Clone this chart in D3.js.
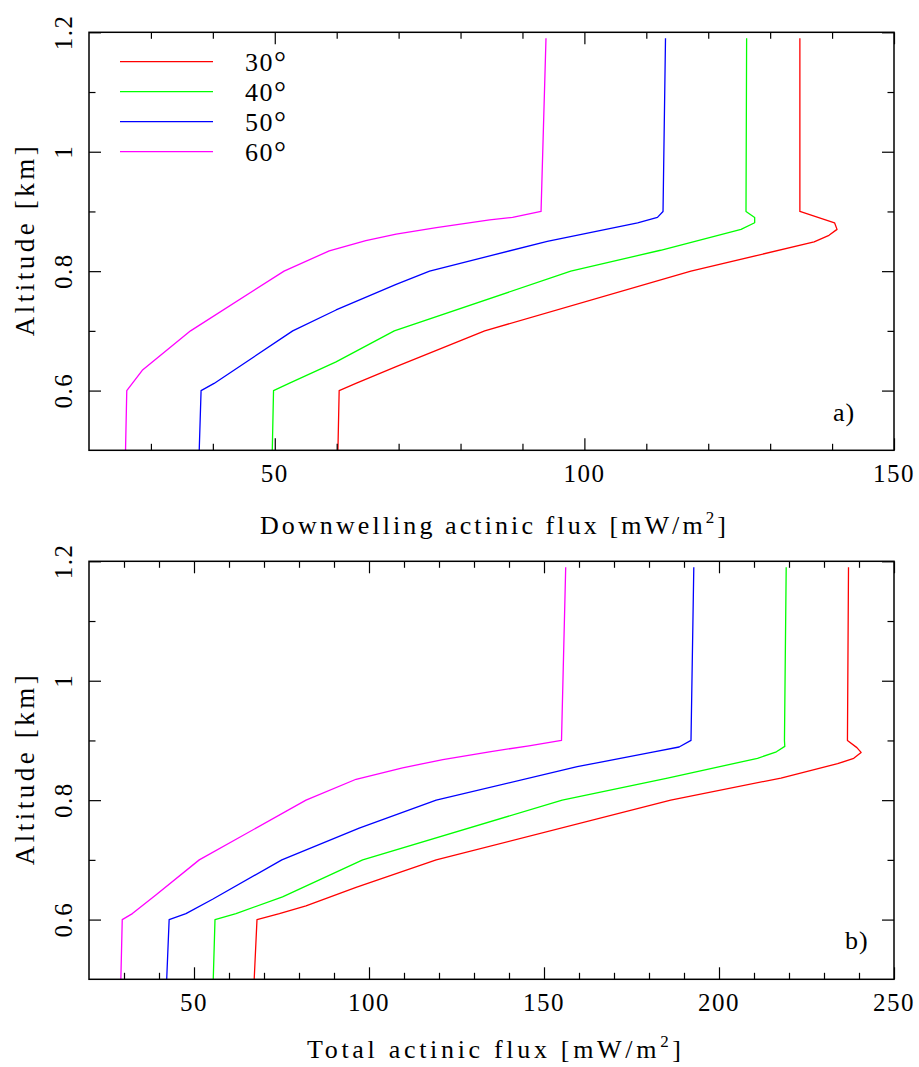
<!DOCTYPE html>
<html>
<head>
<meta charset="utf-8">
<script src="https://cdn.jsdelivr.net/npm/d3@7"></script>
<style>
  html, body { margin: 0; padding: 0; background: #fff; }
  svg { display: block; }
  text { font-family: "Liberation Serif", "DejaVu Serif", serif; fill: #000; }
</style>
</head>
<body>
<svg id="chart" width="919" height="1067"></svg>
<script>
// Solar zenith angles and their line colours
const angles = ["30", "40", "50", "60"];
const colors = ["#ff0000", "#00ff00", "#0000ff", "#ff00ff"];

// Panel a: downwelling actinic flux [mW/m2] vs altitude [km], as [flux, altitude]
const down30 = [[60.2,0.5],[60.4,0.6],[63.1,0.612],[69.6,0.64],[83.9,0.7],[117.2,0.8],[137.1,0.849],[139.5,0.86],[140.8,0.87],[140.4,0.881],[134.8,0.9],[134.8,1.19]];
const down40 = [[49.6,0.5],[49.8,0.6],[52.3,0.612],[59.9,0.648],[69.3,0.7],[97.8,0.8],[112.3,0.835],[125.3,0.87],[127.5,0.881],[127.5,0.89],[126.1,0.9],[126.2,1.19]];
const down50 = [[37.8,0.5],[38.1,0.6],[40.2,0.612],[52.9,0.7],[59.9,0.735],[69.6,0.778],[75.0,0.8],[94.0,0.85],[108.6,0.881],[111.8,0.89],[112.7,0.9],[113.1,1.19]];
const down60 = [[25.9,0.5],[26.1,0.6],[28.6,0.634],[36.4,0.7],[51.5,0.8],[58.8,0.834],[64.7,0.851],[69.6,0.862],[76.1,0.873],[84.7,0.886],[88.4,0.89],[93.0,0.9],[93.8,1.19]];

// Panel b: total actinic flux [mW/m2] vs altitude [km], as [flux, altitude]
const tot30 = [[67.2,0.5],[68.0,0.6],[74.4,0.61],[82.0,0.623],[96.3,0.654],[119.2,0.7],[186.2,0.8],[217.7,0.837],[233.9,0.861],[238.5,0.87],[240.6,0.88],[239.4,0.888],[236.7,0.9],[237.0,1.19]];
const tot40 = [[55.5,0.5],[56.0,0.6],[62.0,0.61],[75.3,0.638],[98.2,0.7],[155.2,0.8],[185.3,0.837],[211.0,0.87],[216.4,0.881],[218.8,0.89],[218.7,0.9],[219.2,1.19]];
const tot50 = [[42.2,0.5],[42.9,0.6],[47.7,0.61],[55.3,0.634],[75.1,0.7],[97.2,0.753],[119.2,0.8],[159.5,0.856],[181.4,0.881],[188.6,0.889],[192.0,0.9],[192.8,1.19]];
const tot60 = [[29.1,0.5],[29.5,0.6],[32.4,0.61],[39.1,0.641],[51.5,0.7],[82.0,0.8],[96.3,0.835],[109.6,0.854],[121.1,0.868],[134.4,0.881],[145.7,0.891],[155.0,0.9],[156.2,1.19]];

// Axis ranges and ticks
const altDomain = [0.5, 1.2];
const altMajor = [0.6, 0.8, 1.0, 1.2];
const altMinor = [0.7, 0.9, 1.1];
const downDomain = [20, 150];
const downMajor = [50, 100, 150];
const downMinor = [30, 40, 60, 70, 80, 90, 110, 120, 130, 140];
const totDomain = [20, 250];
const totMajor = [50, 100, 150, 200, 250];
const totMinor = [30, 40, 60, 70, 80, 90, 110, 120, 130, 140, 160, 170, 180, 190, 210, 220, 230, 240];

const svg = d3.select("#chart");

const panels = [
  {
    top: 32.3, bottom: 450.3,
    xDomain: downDomain, xMajor: downMajor, xMinor: downMinor,
    series: [down30, down40, down50, down60],
    xTitle: "Downwelling actinic flux [mW/m", xTitleX: 260, xTitleY: 534, xTitleLen: 466,
    tag: "a)", tagX: 833, tagY: 421,
    legend: true
  },
  {
    top: 561.3, bottom: 979.3,
    xDomain: totDomain, xMajor: totMajor, xMinor: totMinor,
    series: [tot30, tot40, tot50, tot60],
    xTitle: "Total actinic flux [mW/m", xTitleX: 307, xTitleY: 1058, xTitleLen: 374,
    tag: "b)", tagX: 845, tagY: 949,
    legend: false
  }
];

const left = 89, right = 894;
const majorLen = 12, minorLen = 6.5;

panels.forEach(p => {
  const x = d3.scaleLinear().domain(p.xDomain).range([left, right]);
  const y = d3.scaleLinear().domain(altDomain).range([p.bottom, p.top]);
  const g = svg.append("g");

  // curves
  const line = d3.line().x(d => x(d[0])).y(d => y(d[1]));
  p.series.forEach((s, i) => {
    g.append("path")
      .datum(s)
      .attr("d", line)
      .attr("fill", "none")
      .attr("stroke", colors[i])
      .attr("stroke-width", 1.3)
      .attr("stroke-linejoin", "round");
  });

  // ticks on all four sides, pointing inward
  const tickGroup = (axis, tx, ty) => {
    const a = g.append("g").attr("transform", `translate(${tx},${ty})`).call(axis);
    a.select(".domain").remove();
    a.selectAll("text").remove();
    a.selectAll("line").attr("stroke", "#000").attr("stroke-width", 1.2);
  };
  tickGroup(d3.axisBottom(x).tickValues(p.xMajor).tickSize(-majorLen), 0, p.bottom);
  tickGroup(d3.axisBottom(x).tickValues(p.xMinor).tickSize(-minorLen), 0, p.bottom);
  tickGroup(d3.axisTop(x).tickValues(p.xMajor).tickSize(-majorLen), 0, p.top);
  tickGroup(d3.axisTop(x).tickValues(p.xMinor).tickSize(-minorLen), 0, p.top);
  tickGroup(d3.axisLeft(y).tickValues(altMajor).tickSize(-majorLen), left, 0);
  tickGroup(d3.axisLeft(y).tickValues(altMinor).tickSize(-minorLen), left, 0);
  tickGroup(d3.axisRight(y).tickValues(altMajor).tickSize(-majorLen), right, 0);
  tickGroup(d3.axisRight(y).tickValues(altMinor).tickSize(-minorLen), right, 0);

  // frame
  g.append("rect")
    .attr("x", left).attr("y", p.top)
    .attr("width", right - left).attr("height", p.bottom - p.top)
    .attr("fill", "none").attr("stroke", "#000").attr("stroke-width", 1.5);

  // x tick labels
  g.selectAll(".xlab").data(p.xMajor).join("text")
    .attr("x", d => x(d)).attr("y", p.bottom + 32)
    .attr("text-anchor", "middle")
    .attr("font-size", 25)
    .attr("letter-spacing", 1.5)
    .text(d => d);

  // y tick labels, rotated
  g.selectAll(".ylab").data(altMajor).join("text")
    .attr("transform", d => `translate(72,${y(d)}) rotate(-90)`)
    .attr("text-anchor", "middle")
    .attr("font-size", 25)
    .attr("letter-spacing", 1.5)
    .text(d => String(d));

  // x axis title with superscript
  const xt = g.append("text")
    .attr("x", p.xTitleX).attr("y", p.xTitleY)
    .attr("font-size", 26)
    .attr("textLength", p.xTitleLen)
    .attr("lengthAdjust", "spacing");
  xt.append("tspan").text(p.xTitle);
  xt.append("tspan").attr("font-size", 17).attr("dy", -11).text("2");
  xt.append("tspan").attr("dy", 11).text("]");

  // y axis title
  g.append("text")
    .attr("transform", `translate(34,${(p.top + p.bottom) / 2}) rotate(-90)`)
    .attr("text-anchor", "middle")
    .attr("font-size", 27)
    .attr("textLength", 190)
    .attr("lengthAdjust", "spacing")
    .text("Altitude [km]");

  // panel tag
  g.append("text")
    .attr("x", p.tagX).attr("y", p.tagY)
    .attr("font-size", 26)
    .attr("letter-spacing", 1)
    .text(p.tag);

  // legend
  if (p.legend) {
    const lg = g.append("g");
    angles.forEach((a, i) => {
      const ly = 61.7 + i * 30;
      lg.append("line")
        .attr("x1", 120).attr("x2", 213)
        .attr("y1", ly).attr("y2", ly)
        .attr("stroke", colors[i]).attr("stroke-width", 1.3);
      const t = lg.append("text")
        .attr("x", 245).attr("y", ly + 9.5)
        .attr("font-size", 26)
        .attr("letter-spacing", 1.5);
      t.append("tspan").text(a);
      t.append("tspan").attr("font-size", 30).attr("dy", 1).text("°");
    });
  }
});
</script>
</body>
</html>
